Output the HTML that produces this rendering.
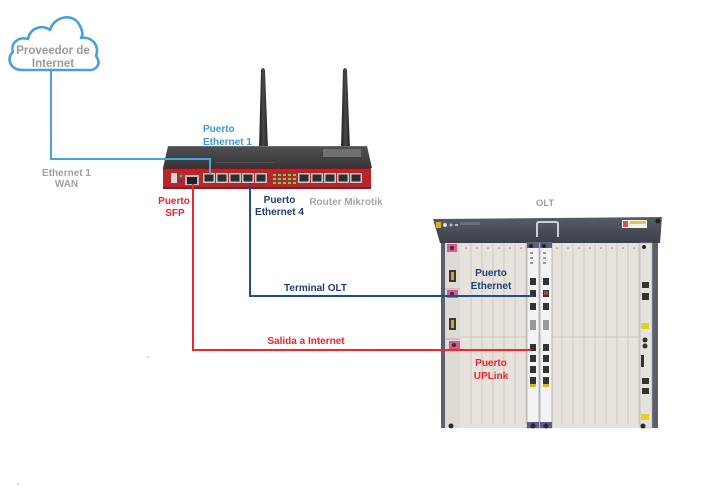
<!DOCTYPE html>
<html><head><meta charset="utf-8"><style>
html,body{margin:0;padding:0;background:#fff;}
svg{display:block;}
text{font-family:"Liberation Sans",sans-serif;font-weight:bold;}
</style></head><body>
<svg width="708" height="487" viewBox="0 0 708 487" xmlns="http://www.w3.org/2000/svg">
<rect width="708" height="487" fill="#fff"/>
<defs>
<linearGradient id="ant" x1="0" x2="1" y1="0" y2="0"><stop offset="0" stop-color="#1e1e1e"/><stop offset="0.5" stop-color="#4a4a4a"/><stop offset="1" stop-color="#1e1e1e"/></linearGradient>
<linearGradient id="rtop" x1="0" x2="0" y1="0" y2="1"><stop offset="0" stop-color="#505052"/><stop offset="1" stop-color="#363638"/></linearGradient>
<linearGradient id="obar" x1="0" x2="0" y1="0" y2="1"><stop offset="0" stop-color="#585c67"/><stop offset="1" stop-color="#3c404a"/></linearGradient>
</defs>

<!-- Cloud -->
<path d="M22,70 C10,70 6,58 13,52 C10,44 18,36 28,39 C30,28 42,24 50,30 C54,16 74,12 80,26 C84,34 82,36 81,38 C92,36 100,46 96,56 C102,64 96,71 88,70 Z" fill="#fff" stroke="#4aa0dc" stroke-width="2.6" stroke-linejoin="round"/>
<text x="53" y="54" font-size="11.5" fill="#9a9a9a" text-anchor="middle">Proveedor de</text>
<text x="53" y="67" font-size="11.5" fill="#9a9a9a" text-anchor="middle">Internet</text>

<!-- Antennas -->
<path d="M261,70 Q263,66 265,70 L268,150 L259,150 Z" fill="url(#ant)"/>
<path d="M343,70 Q345,66 347,70 L350,150 L341,150 Z" fill="url(#ant)"/>

<!-- Router body -->
<polygon points="168,146 367,146 372,168 163,168" fill="url(#rtop)"/>
<line x1="168" y1="146.5" x2="367" y2="146.5" stroke="#6a6a6c" stroke-width="1"/>
<rect x="323" y="149" width="38" height="8" fill="#707072"/>
<rect x="215" y="162" width="60" height="1" fill="#4e4e50"/>
<rect x="163" y="168" width="208" height="21" fill="#b8262c"/>
<rect x="163" y="187" width="208" height="2" fill="#8a1c20"/>
<rect x="163" y="168" width="208" height="1" fill="#7a1a1e"/>
<!-- USB & leds -->
<rect x="171" y="173" width="6" height="10" fill="#d8d8d8"/>
<circle cx="181" cy="176" r="1.5" fill="#3c3"/>
<circle cx="181" cy="181" r="1.5" fill="#33c"/>
<!-- SFP -->
<rect x="185" y="175" width="14" height="10" fill="#bbb"/>
<rect x="187" y="177" width="10" height="7" fill="#222"/>
<!-- ports -->
<g fill="#c9c9c9">
<rect x="203" y="173" width="12" height="10"/><rect x="216" y="173" width="12" height="10"/><rect x="229" y="173" width="12" height="10"/><rect x="242" y="173" width="12" height="10"/><rect x="255" y="173" width="12" height="10"/>
<rect x="298" y="173" width="12" height="10"/><rect x="311" y="173" width="12" height="10"/><rect x="324" y="173" width="12" height="10"/><rect x="337" y="173" width="12" height="10"/><rect x="350" y="173" width="12" height="10"/>
</g>
<g fill="#2e2e2e">
<rect x="204.5" y="174.5" width="9" height="7"/><rect x="217.5" y="174.5" width="9" height="7"/><rect x="230.5" y="174.5" width="9" height="7"/><rect x="243.5" y="174.5" width="9" height="7"/><rect x="256.5" y="174.5" width="9" height="7"/>
<rect x="299.5" y="174.5" width="9" height="7"/><rect x="312.5" y="174.5" width="9" height="7"/><rect x="325.5" y="174.5" width="9" height="7"/><rect x="338.5" y="174.5" width="9" height="7"/><rect x="351.5" y="174.5" width="9" height="7"/>
</g>
<!-- LEDs -->
<g fill="#5cd65c">
<rect x="273" y="174" width="3" height="2"/><rect x="278" y="174" width="3" height="2"/><rect x="283" y="174" width="3" height="2"/><rect x="288" y="174" width="3" height="2"/><rect x="293" y="174" width="3" height="2"/>
<rect x="273" y="178" width="3" height="2"/><rect x="278" y="178" width="3" height="2"/><rect x="283" y="178" width="3" height="2"/><rect x="288" y="178" width="3" height="2"/><rect x="293" y="178" width="3" height="2"/>
<rect x="273" y="182" width="3" height="2"/><rect x="278" y="182" width="3" height="2"/><rect x="283" y="182" width="3" height="2"/><rect x="288" y="182" width="3" height="2"/><rect x="293" y="182" width="3" height="2"/>
</g>

<!-- Router labels -->
<text x="203" y="132" font-size="10" fill="#3d9ad8">Puerto</text>
<text x="203" y="145" font-size="10" fill="#3d9ad8">Ethernet 1</text>
<text x="66.5" y="176" font-size="10" fill="#a0a0a0" text-anchor="middle">Ethernet 1</text>
<text x="66.5" y="187" font-size="10" fill="#a0a0a0" text-anchor="middle">WAN</text>
<text x="174" y="204" font-size="10" fill="#e8262b" text-anchor="middle">Puerto</text>
<text x="175" y="216" font-size="10" fill="#e8262b" text-anchor="middle">SFP</text>
<text x="279.5" y="203" font-size="10" fill="#1c3f7a" text-anchor="middle">Puerto</text>
<text x="279.5" y="215" font-size="10" fill="#1c3f7a" text-anchor="middle">Ethernet 4</text>
<text x="346" y="205" font-size="10" fill="#a6a6a6" text-anchor="middle">Router Mikrotik</text>

<!-- OLT -->
<text x="545" y="206" font-size="9.5" fill="#a0a0a0" text-anchor="middle">OLT</text>
<rect x="441" y="243" width="217" height="185" fill="#e7e3dc"/>
<rect x="441" y="243" width="4" height="185" fill="#5b606c"/>
<rect x="652" y="243" width="6" height="185" fill="#5b606c"/>
<polygon points="433,219 662,217 660,243 440,243" fill="url(#obar)"/>
<circle cx="658" cy="221" r="2.5" fill="#222"/>
<rect x="436" y="222" width="5" height="6" fill="#e0b020"/>
<circle cx="445" cy="225" r="2" fill="#ddd"/>
<circle cx="451" cy="225" r="1.5" fill="#bbb"/>
<rect x="455" y="224" width="3" height="2" fill="#bbb"/>
<rect x="460" y="222" width="20" height="3" fill="#6b6f7a"/>
<path d="M537,237 L537,224 Q537,222 539,222 L556,222 Q558,222 558,224 L558,237" fill="none" stroke="#cfcfcf" stroke-width="2"/>
<rect x="622" y="220" width="25" height="8" fill="#f2f2f2"/>
<rect x="623" y="221" width="5" height="6" fill="#e05050"/>
<rect x="630" y="221" width="16" height="3" fill="#f0c040"/>
<!-- left power modules -->
<rect x="445" y="243" width="15" height="185" fill="#dedbd5"/>
<line x1="445" y1="289" x2="460" y2="289" stroke="#b0aca4"/>
<line x1="445" y1="339" x2="460" y2="339" stroke="#b0aca4"/>
<rect x="447" y="244" width="10" height="8" fill="#d65a8c"/>
<circle cx="452" cy="248" r="2" fill="#333"/>
<rect x="449" y="270" width="7" height="12" fill="#3a3a3a"/>
<rect x="451" y="272" width="3" height="8" fill="#c8a040"/>
<rect x="447" y="290" width="11" height="8" fill="#d65a8c"/>
<circle cx="452" cy="294" r="2" fill="#333"/>
<rect x="449" y="318" width="7" height="12" fill="#3a3a3a"/>
<rect x="451" y="320" width="3" height="8" fill="#c8a040"/>
<rect x="449" y="341" width="11" height="8" fill="#d65a8c"/>
<circle cx="454" cy="345" r="2" fill="#333"/>
<!-- slots -->
<g stroke="#cdc8be" stroke-width="1">
<line x1="471" y1="243" x2="471" y2="424"/><line x1="482" y1="243" x2="482" y2="424"/><line x1="493" y1="243" x2="493" y2="424"/><line x1="504" y1="243" x2="504" y2="424"/><line x1="515" y1="243" x2="515" y2="424"/><line x1="526" y1="243" x2="526" y2="424"/>
<line x1="562" y1="243" x2="562" y2="424"/><line x1="573" y1="243" x2="573" y2="424"/><line x1="584" y1="243" x2="584" y2="424"/><line x1="595" y1="243" x2="595" y2="424"/><line x1="606" y1="243" x2="606" y2="424"/><line x1="617" y1="243" x2="617" y2="424"/><line x1="628" y1="243" x2="628" y2="424"/><line x1="639" y1="243" x2="639" y2="424"/>
<line x1="460" y1="337" x2="640" y2="337"/>
</g>
<g fill="#888">
<circle cx="466" cy="248" r="0.8"/><circle cx="477" cy="248" r="0.8"/><circle cx="488" cy="248" r="0.8"/><circle cx="499" cy="248" r="0.8"/><circle cx="510" cy="248" r="0.8"/><circle cx="521" cy="248" r="0.8"/>
<circle cx="557" cy="248" r="0.8"/><circle cx="568" cy="248" r="0.8"/><circle cx="579" cy="248" r="0.8"/><circle cx="590" cy="248" r="0.8"/><circle cx="601" cy="248" r="0.8"/><circle cx="612" cy="248" r="0.8"/><circle cx="623" cy="248" r="0.8"/><circle cx="634" cy="248" r="0.8"/>
</g>
<!-- control cards -->
<rect x="527" y="243" width="12" height="185" fill="#f3f3f3" stroke="#a8a8b0" stroke-width="0.8"/>
<rect x="540" y="243" width="12" height="185" fill="#f3f3f3" stroke="#a8a8b0" stroke-width="0.8"/>
<rect x="527" y="243" width="12" height="5" fill="#5c5c8c"/>
<rect x="540" y="243" width="12" height="5" fill="#5c5c8c"/>
<rect x="527" y="422" width="12" height="6" fill="#5c5c8c"/>
<rect x="540" y="422" width="12" height="6" fill="#5c5c8c"/>
<g fill="#333">
<rect x="530" y="278" width="6" height="7"/><rect x="530" y="290" width="6" height="7"/><rect x="530" y="303" width="6" height="7"/>
<rect x="543" y="278" width="6" height="7"/><rect x="543" y="290" width="6" height="7"/><rect x="543" y="303" width="6" height="7"/>
<rect x="530" y="344" width="6" height="7"/><rect x="530" y="355" width="6" height="7"/><rect x="530" y="366" width="6" height="7"/><rect x="530" y="377" width="6" height="7"/>
<rect x="543" y="344" width="6" height="7"/><rect x="543" y="355" width="6" height="7"/><rect x="543" y="366" width="6" height="7"/><rect x="543" y="377" width="6" height="7"/>
</g>
<rect x="544" y="291" width="4" height="4" fill="#a05030"/>
<rect x="530" y="384" width="6" height="3" fill="#e0b020"/>
<rect x="543" y="384" width="6" height="3" fill="#e0b020"/>
<g fill="#999">
<rect x="530" y="252" width="3" height="2"/><rect x="530" y="257" width="3" height="2"/><rect x="530" y="262" width="3" height="2"/>
<rect x="543" y="252" width="3" height="2"/><rect x="543" y="257" width="3" height="2"/><rect x="543" y="262" width="3" height="2"/>
<rect x="530" y="320" width="6" height="10"/><rect x="543" y="320" width="6" height="10"/>
</g>
<!-- right card -->
<rect x="640" y="243" width="12" height="185" fill="#e2e2de" stroke="#b0b0b0" stroke-width="0.6"/>
<g fill="#333">
<rect x="642" y="282" width="7" height="6"/><rect x="642" y="293" width="7" height="7"/>
<circle cx="645" cy="340" r="2.5"/><circle cx="645" cy="346" r="2.5"/>
<rect x="642" y="378" width="7" height="6"/><rect x="642" y="388" width="7" height="6"/>
<rect x="641" y="355" width="3" height="12"/>
</g>
<rect x="641" y="323" width="8" height="6" fill="#e8d020"/>
<rect x="641" y="414" width="8" height="6" fill="#e8d020"/>
<g fill="#2a2a2a">
<circle cx="451" cy="426" r="2.5"/><circle cx="533" cy="426" r="2.5"/><circle cx="546" cy="426" r="2.5"/><circle cx="643" cy="426" r="2.5"/>
</g>
<circle cx="531" cy="246" r="2" fill="#222"/>
<circle cx="544" cy="246" r="2" fill="#222"/>
<circle cx="644" cy="247" r="2" fill="#222"/>

<!-- Connectors (on top) -->
<polyline points="51,71 51,159 210,159 210,174" fill="none" stroke="#4aa3df" stroke-width="2"/>
<polyline points="250,183 250,296 533,296" fill="none" stroke="#1f4e8c" stroke-width="2"/>
<polyline points="193,184 193,350 531,350" fill="none" stroke="#f0282d" stroke-width="2"/>

<!-- OLT labels -->
<text x="491" y="276" font-size="10" fill="#1c3f7a" text-anchor="middle">Puerto</text>
<text x="491" y="289" font-size="10" fill="#1c3f7a" text-anchor="middle">Ethernet</text>
<text x="491" y="366" font-size="10" fill="#e8262b" text-anchor="middle">Puerto</text>
<text x="491" y="379" font-size="10" fill="#e8262b" text-anchor="middle">UPLink</text>

<!-- line labels -->
<text x="315.5" y="291" font-size="10" fill="#1c3f7a" text-anchor="middle">Terminal OLT</text>
<text x="306" y="344" font-size="10" fill="#e8262b" text-anchor="middle">Salida a Internet</text>

<circle cx="148" cy="357" r="0.7" fill="#999"/>
<circle cx="18" cy="484" r="0.7" fill="#999"/>
</svg>
</body></html>
